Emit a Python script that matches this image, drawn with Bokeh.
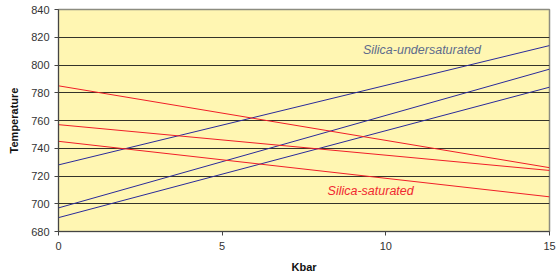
from bokeh.plotting import figure
from bokeh.models import Range1d, FixedTicker, Label
from bokeh.embed import file_html
from bokeh.resources import INLINE

kbar = [0, 15]
blue_lines = [[728, 814], [697, 797], [690, 784]]
red_lines = [[785, 726], [757, 724], [745, 705]]
x_ticks = [0, 5, 10, 15]
y_ticks = [680, 700, 720, 740, 760, 780, 800, 820, 840]

FONT = "Liberation Sans"

p = figure(frame_width=491, frame_height=222, output_backend="svg", toolbar_location=None,
           x_range=Range1d(0, 15), y_range=Range1d(680, 840),
           min_border_left=58, min_border_right=7, min_border_top=9, min_border_bottom=45)
p.background_fill_color = "#FFF6B2"
p.border_fill_color = "white"
p.outline_line_color = "#8C8C80"
p.outline_line_width = 1.5

p.xgrid.grid_line_color = None
p.ygrid.grid_line_color = "#111111"
p.ygrid.grid_line_width = 1
p.ygrid.grid_line_alpha = 0.85

for ys in blue_lines:
    p.line(kbar, ys, line_color="#2A2A9A", line_width=1)
for ys in red_lines:
    p.line(kbar, ys, line_color="#F01E28", line_width=1)

p.xaxis.ticker = FixedTicker(ticks=x_ticks)
p.yaxis.ticker = FixedTicker(ticks=y_ticks)
for ax in (p.xaxis, p.yaxis):
    ax.axis_line_color = "#444444"
    ax.major_tick_line_color = "#444444"
    ax.major_tick_out = 4
    ax.major_tick_in = 0
    ax.minor_tick_line_color = None
    ax.major_label_text_font = FONT
    ax.major_label_text_font_size = "11px"
    ax.major_label_text_color = "#333333"
    ax.axis_label_text_font = FONT
    ax.axis_label_text_font_size = "11px"
    ax.axis_label_text_font_style = "bold"
    ax.axis_label_text_color = "#111111"
p.xaxis.axis_label = "Kbar"
p.yaxis.axis_label = "Temperature"
p.xaxis.major_label_standoff = 6
p.yaxis.major_label_standoff = 5
p.xaxis.axis_label_standoff = 8
p.yaxis.axis_label_standoff = 8

p.add_layout(Label(x=9.3, y=810.5, text="Silica-undersaturated", text_font=FONT,
                   text_font_size="12.5px", text_font_style="italic",
                   text_color="#5E6C8C", text_baseline="middle"))
p.add_layout(Label(x=8.22, y=709.4, text="Silica-saturated", text_font=FONT,
                   text_font_size="12.5px", text_font_style="italic",
                   text_color="#F02830", text_baseline="middle"))

open("out.html", "w").write(file_html(p, INLINE))
